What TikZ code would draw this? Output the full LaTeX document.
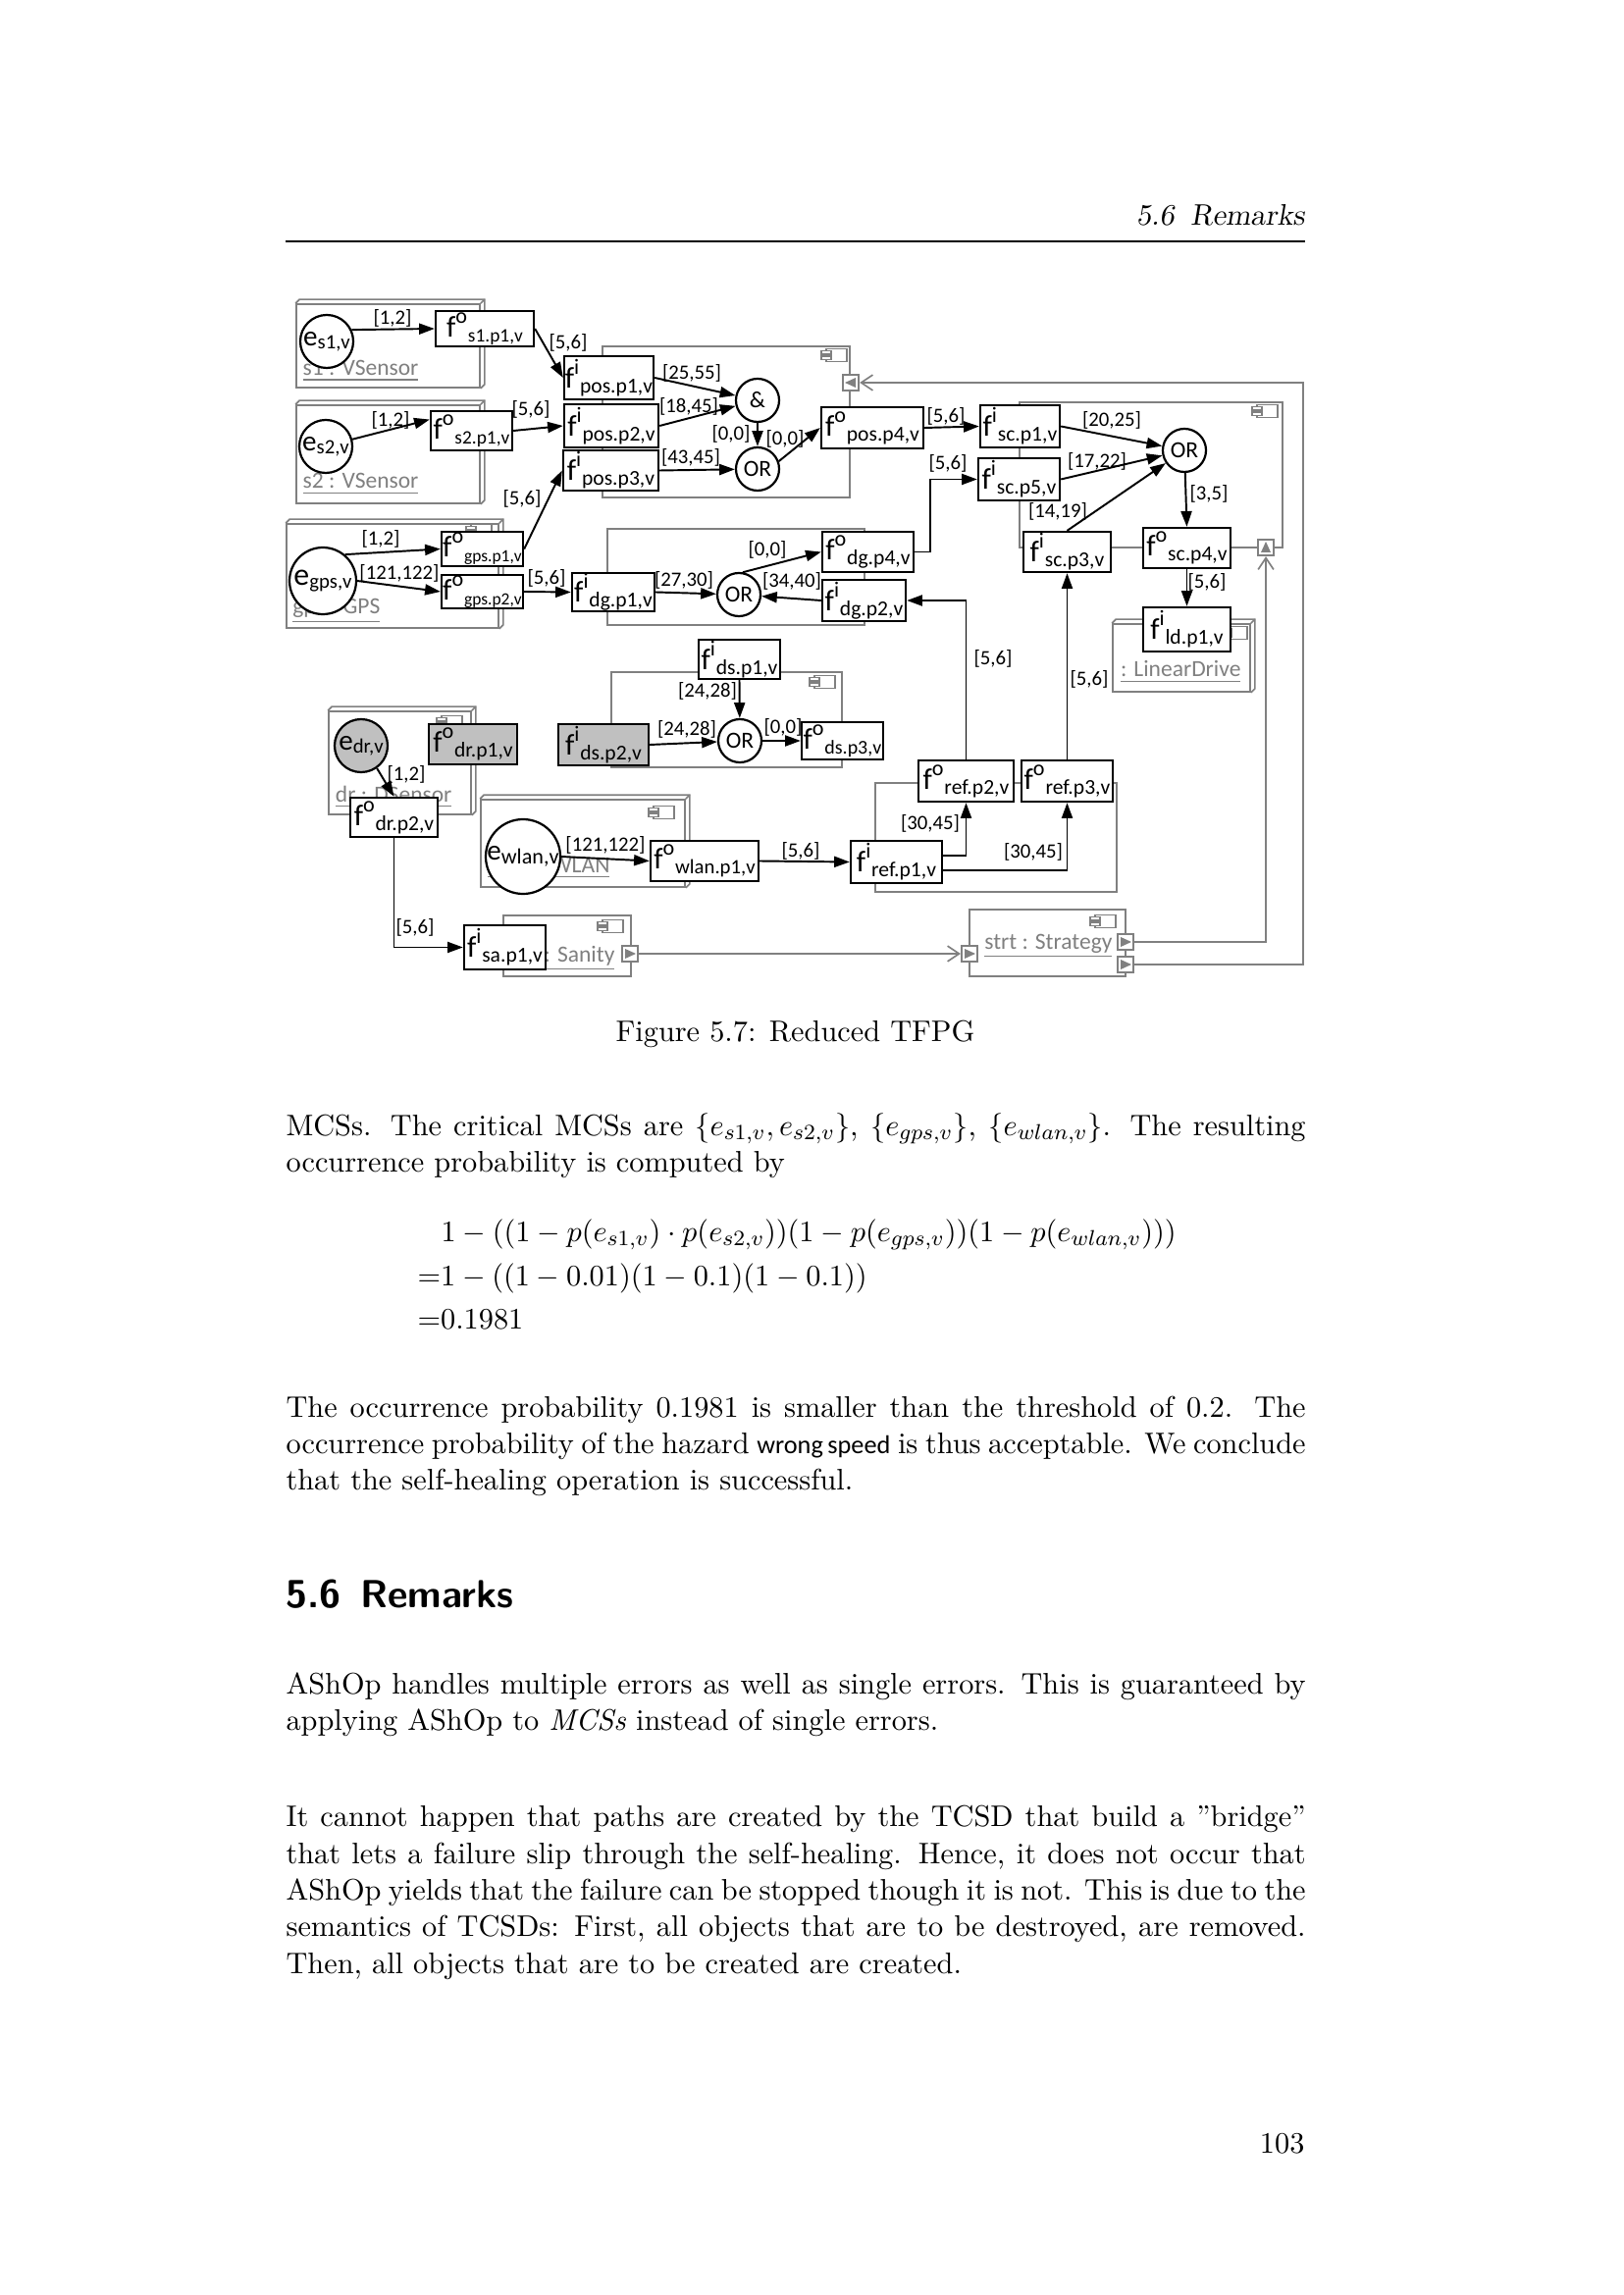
\documentclass[tikz,border=0pt]{standalone}
\usepackage{fontspec}
\newfontfamily\cf{Carlito}
\usetikzlibrary{arrows.meta,fit,calc}
\definecolor{compgray}{RGB}{128,128,128}
\definecolor{nodegray}{RGB}{192,192,192}
\newcommand\bodyfont{\fontsize{10.95pt}{13.6pt}\selectfont}
\newcommand\lblfont{\cf\fontsize{7.5pt}{8pt}\selectfont}
\newcommand\clblfont{\cf\fontsize{8.5pt}{9pt}\selectfont}
\newcommand\gatefont{\cf\fontsize{8.5pt}{9pt}\selectfont}
\newcommand\fx[3][7.8pt]{{\cf\fontsize{11pt}{11pt}\selectfont f\raisebox{5pt}{\fontsize{8pt}{8pt}\selectfont #2}\raisebox{-1.8pt}{\fontsize{#1}{8pt}\selectfont\hspace{0.3pt}#3}}}
\newcommand\ex[3]{{\cf\fontsize{#1}{#1}\selectfont e\raisebox{-1.2pt}{\fontsize{#2}{#2}\selectfont #3}}}
\newcommand\jl[1]{\makebox[131.91mm][s]{#1}}
\newcommand\fnode[7][fb]{\node[#1, minimum width={(#5-#3)*0.12696mm}, minimum height={(#6-#4)*0.12696mm}] (#2) at ({(#3+#5)/2},{(#4+#6)/2}) {#7};}
\newcommand\threed[1]{\draw[comp] (#1.north west) -- ++(4,-4) -- ($(#1.north east)+(4,-4)$) -- ($(#1.south east)+(4,-4)$) -- (#1.south east); \draw[comp] (#1.north east) -- ++(4,-4);}
\tikzset{
 fb/.style={draw=black, line width=0.85pt, fill=white, inner sep=0pt},
 fbg/.style={fb, fill=nodegray},
 ev/.style={circle, draw=black, line width=0.8pt, fill=white, inner sep=0pt},
 gate/.style={circle, draw=black, line width=0.8pt, fill=white, inner sep=0pt, minimum size=5.59mm, font=\gatefont},
 arr/.style={line width=0.7pt, -{Triangle[length=2mm,width=1.4mm]}},
 comp/.style={draw=compgray, line width=0.6pt},
 compbox/.style={draw=compgray, line width=0.6pt, inner sep=0pt},
 lbl/.style={inner sep=0pt, font=\lblfont},
 clbl/.style={inner sep=0pt, font=\clblfont, text=compgray, anchor=base east},
 garr/.style={draw=compgray, line width=0.6pt, -{Straight Barb[length=1.5mm,width=2mm]}},
 port/.style={draw=compgray, line width=0.6pt, fill=white, minimum size=2.1mm, inner sep=0pt},
 txt/.style={anchor=base west, inner sep=0pt, font=\bodyfont},
 cicon/.pic={
   \draw[compgray, line width=0.5pt, fill=white] (-8,-6.5) rectangle (13,6.5);
   \draw[compgray, line width=0.5pt, fill=white] (-13,-4.5) rectangle (-3,-1);
   \draw[compgray, line width=0.5pt, fill=white] (-13,1) rectangle (-3,4.5);
 }
}
\begin{document}
\begin{tikzpicture}[x=0.12696mm, y=-0.12696mm]
\useasboundingbox (0,0) rectangle (1654,2339);
\fill[white] (0,0) rectangle (1654,2339);

% ---------- page header ----------
\node[anchor=base east, inner sep=0pt, font=\bodyfont\slshape] (hdr) at (1330,230) {5.6\hspace{0.55em}Remarks};
\draw[line width=0.4pt] (291,246) -- (1330,246);

% ---------- components ----------
\node[compbox, fit={(302,310)(489,395)}] (cs1) {}; \threed{cs1}
\node[compbox, fit={(302,413)(489,513)}] (cs2) {}; \threed{cs2}
\node[compbox, fit={(292,534)(508,640)}] (cgps) {}; \threed{cgps}
\node[compbox, fit={(335,725)(480,830)}] (cdr) {}; \threed{cdr}
\node[compbox, fit={(490,815)(698,904)}] (cwlan) {}; \threed{cwlan}
\node[compbox, fit={(1134,636)(1274,705)}] (cld) {}; \threed{cld}
\node[compbox, fit={(614,353)(866,507)}] (cpos) {};
\node[compbox, fit={(619,539)(881,637)}] (cdg) {};
\node[compbox, fit={(1039,410)(1307,558)}] (csc) {};
\node[compbox, fit={(623,685)(858,782)}] (cds) {};
\node[compbox, fit={(892,798)(1138,909)}] (cref) {};
\node[compbox, fit={(513,933)(643,995)}] (csan) {};
\node[compbox, fit={(988,927)(1147,995)}] (cstr) {};

\pic at (850,362) {cicon};
\pic at (1289,419) {cicon};
\pic at (838,695) {cicon};
\pic at (674,828) {cicon};
\pic at (458,736) {cicon};
\pic at (622,944) {cicon};
\pic at (1124,939) {cicon};
\pic at (488,541) {cicon};
\pic at (1258,645) {cicon};

\node[clbl] (ls1) at (427,383) {\underline{s1 : VSensor}};
\node[clbl] (ls2) at (427,498) {\underline{s2 : VSensor}};
\node[clbl] (lgps) at (388,626) {\underline{gps : GPS}};
\node[clbl] (ldr) at (461,817) {\underline{dr : DSensor}};
\node[clbl] (lwlan) at (622,889) {\underline{wlan : WLAN}};
\node[clbl] (lld) at (1265,690) {\underline{: LinearDrive}};
\node[clbl] (lsan) at (627,980) {\underline{sa : Sanity}};
\node[clbl] (lstr) at (1134,967) {\underline{strt : Strategy}};

% ---------- ports ----------
\node[port] (ppos) at (867,390) {};
\fill[compgray] (ppos.center) ++(5,-5) -- ++(0,10) -- ++(-11,-5) -- cycle;
\node[port] (psc) at (1290,558) {};
\fill[compgray] (psc.center) ++(-5,5) -- ++(10,0) -- ++(-5,-11) -- cycle;
\node[port] (psan) at (642,972) {};
\fill[compgray] (psan.center) ++(-5,-5) -- ++(0,10) -- ++(11,-5) -- cycle;
\node[port] (pin) at (988,972) {};
\fill[compgray] (pin.center) ++(-5,-5) -- ++(0,10) -- ++(11,-5) -- cycle;
\node[port] (pout1) at (1147,960) {};
\fill[compgray] (pout1.center) ++(-5,-5) -- ++(0,10) -- ++(11,-5) -- cycle;
\node[port] (pout2) at (1147,983) {};
\fill[compgray] (pout2.center) ++(-5,-5) -- ++(0,10) -- ++(11,-5) -- cycle;

\coordinate (k2) at (1328,390);
\draw[garr] (psan.east) -- (pin.west);
\draw[garr] (pout1.east) -| (psc.south);
\draw[garr] (pout2.east) -| (k2) -- (ppos.east);

% ---------- event circles and gates ----------
\node[ev, minimum size=6.86mm] (es1) at (333,348) {\ex{10.5pt}{7.5pt}{s1,v}};
\node[ev, minimum size=6.86mm] (es2) at (332,455) {\ex{10.5pt}{7.5pt}{s2,v}};
\node[ev, minimum size=8.63mm] (egps) at (329,592) {\ex{11.5pt}{7.5pt}{gps,v}};
\node[ev, minimum size=6.86mm, fill=nodegray] (edr) at (368,760) {\ex{10.5pt}{7.5pt}{dr,v}};
\node[ev, minimum size=9.65mm] (ewlan) at (533,873) {\ex{10.5pt}{8pt}{wlan,v}};
\node[gate] (and) at (772,408) {\&};
\node[gate] (orpos) at (772,478) {OR};
\node[gate] (ordg) at (753,606) {OR};
\node[gate] (ords) at (754,755) {OR};
\node[gate] (orsc) at (1207,459) {OR};

% ---------- failure mode boxes ----------
\fnode{fs1}{444}{317}{544}{353}{\fx[7pt]{o}{s1.p1,v}}
\fnode{fs2}{439}{419}{522}{459}{\fx[7pt]{o}{s2.p1,v}}
\fnode{pos1}{575}{363}{666}{407}{\fx{i}{pos.p1,v}}
\fnode{pos2}{575}{412}{671}{456}{\fx{i}{pos.p2,v}}
\fnode{pos3}{574}{459}{671}{500}{\fx{i}{pos.p3,v}}
\fnode{pos4}{837}{415}{941}{457}{\fx{o}{pos.p4,v}}
\fnode{gps1}{450}{542}{533}{577}{\fx[6.3pt]{o}{gps.p1,v}}
\fnode{gps2}{450}{586}{533}{620}{\fx[6.3pt]{o}{gps.p2,v}}
\fnode{dg1}{583}{584}{667}{623}{\fx{i}{dg.p1,v}}
\fnode{dg4}{838}{542}{931}{583}{\fx{o}{dg.p4,v}}
\fnode{dg2}{838}{591}{923}{633}{\fx{i}{dg.p2,v}}
\fnode{sc1}{999}{413}{1080}{456}{\fx{i}{sc.p1,v}}
\fnode{sc5}{997}{467}{1080}{510}{\fx{i}{sc.p5,v}}
\fnode{sc3}{1043}{542}{1132}{583}{\fx{i}{sc.p3,v}}
\fnode{sc4}{1165}{538}{1254}{579}{\fx{o}{sc.p4,v}}
\fnode{ld1}{1165}{619}{1254}{664}{\fx{i}{ld.p1,v}}
\fnode{ds1}{712}{652}{795}{692}{\fx{i}{ds.p1,v}}
\fnode[fbg]{ds2}{569}{738}{661}{780}{\fx{i}{ds.p2,v}}
\fnode{ds3}{817}{736}{900}{774}{\fx[7.2pt]{o}{ds.p3,v}}
\fnode[fbg]{dr1}{437}{738}{527}{779}{\fx{o}{dr.p1,v}}
\fnode{dr2}{357}{813}{446}{853}{\fx{o}{dr.p2,v}}
\fnode{wlan1}{663}{857}{773}{898}{\fx[7.5pt]{o}{wlan.p1,v}}
\fnode{ref1}{867}{857}{960}{900}{\fx{i}{ref.p1,v}}
\fnode{ref2}{936}{775}{1033}{817}{\fx{o}{ref.p2,v}}
\fnode{ref3}{1041}{775}{1134}{817}{\fx{o}{ref.p3,v}}
\fnode{sa1}{473}{943}{556}{988}{\fx{i}{sa.p1,v}}

% ---------- connectors ----------
\coordinate (k1) at (948,488.5);
\draw[arr] (es1.25) -- (fs1.west);
\draw[arr] (fs1.east) -- (pos1.west);
\draw[arr] (es2.15) -- (fs2.165);
\draw[arr] (fs2.east) -- (pos2.west);
\draw[arr] (gps1.east) -- (pos3.west);
\draw[arr] (pos1.east) -- (and);
\draw[arr] (pos2.east) -- (and);
\draw[arr] (pos3.east) -- (orpos);
\draw[arr] (and) -- (orpos);
\draw[arr] (orpos.20) -- (pos4.west);
\draw[arr] (pos4.east) -- (sc1.west);
\draw[arr] (dg4.east) -| (k1) -- (sc5.west);
\draw[arr] (sc1.east) -- (orsc);
\draw[arr] (sc5.east) -- (orsc);
\draw[arr] (sc3.north) -- (orsc);
\draw[arr] (orsc) -- (sc4.north);
\draw[arr] (sc4.south) -- (ld1.north);
\draw[arr] (egps.50) -- (gps1.west);
\draw[arr] (egps.east) -- (gps2.west);
\draw[arr] (gps2.east) -- (dg1.west);
\draw[arr] (dg1.east) -- (ordg);
\draw[arr] (ordg.80) -- (dg4.west);
\draw[arr] (dg2.west) -- (ordg);
\draw[arr] (ref2.north) |- (dg2.east);
\draw[arr] (ref3.north) -- (sc3.south);
\draw[arr] (ref1.east) ++(0,-6.5) -| (ref2.south);
\draw[arr] (ref1.east) ++(0,8.5) -| (ref3.south);
\draw[arr] (ewlan.east) -- (wlan1.west);
\draw[arr] (wlan1.east) -- (ref1.west);
\draw[arr] (edr.-55) -- (dr2.north);
\draw[arr] (dr2.south) |- (sa1.west);
\draw[arr] (ds1.south) -- (ords);
\draw[arr] (ds2.east) -- (ords);
\draw[arr] (ords) -- (ds3.west);

% ---------- connector labels ----------
\node[lbl] (l1) at (400,324) {[1,2]};
\node[lbl] (l2) at (579,349) {[5,6]};
\node[lbl] (l3) at (398,428) {[1,2]};
\node[lbl] (l4) at (541,417) {[5,6]};
\node[lbl] (l5) at (532,508) {[5,6]};
\node[lbl] (l6) at (705,380) {[25,55]};
\node[lbl] (l7) at (702,414) {[18,45]};
\node[lbl] (l8) at (704,466) {[43,45]};
\node[lbl] (l9) at (745,442) {[0,0]};
\node[lbl] (l10) at (800,447) {[0,0]};
\node[lbl] (l11) at (964,424) {[5,6]};
\node[lbl] (l12) at (966,472) {[5,6]};
\node[lbl] (l13) at (1133,428) {[20,25]};
\node[lbl] (l14) at (1118,470) {[17,22]};
\node[lbl] (l15) at (1078,521) {[14,19]};
\node[lbl] (l16) at (1232,503) {[3,5]};
\node[lbl] (l17) at (1230,593) {[5,6]};
\node[lbl] (l18) at (1110,692) {[5,6]};
\node[lbl] (l19) at (1012,671) {[5,6]};
\node[lbl] (l20) at (388,549) {[1,2]};
\node[lbl] (l21) at (407,584) {[121,122]};
\node[lbl] (l22) at (557,589) {[5,6]};
\node[lbl] (l23) at (697,591) {[27,30]};
\node[lbl] (l24) at (782,560) {[0,0]};
\node[lbl] (l25) at (807,592) {[34,40]};
\node[lbl] (l26) at (721,704) {[24,28]};
\node[lbl] (l27) at (700,743) {[24,28]};
\node[lbl] (l28) at (798,741) {[0,0]};
\node[lbl] (l29) at (414,789) {[1,2]};
\node[lbl] (l30) at (617,861) {[121,122]};
\node[lbl] (l31) at (816,867) {[5,6]};
\node[lbl] (l32) at (948,839) {[30,45]};
\node[lbl] (l33) at (1053,868) {[30,45]};
\node[lbl] (l34) at (423,945) {[5,6]};

% ---------- caption and body text ----------
\node[anchor=base, inner sep=0pt, font=\bodyfont] (cap) at (810.5,1061) {Figure 5.7: Reduced TFPG};

\node[txt] (p1a) at (291,1157) {\jl{MCSs. The critical MCSs are $\{e_{s1,v}, e_{s2,v}\}$, $\{e_{gps,v}\}$, $\{e_{wlan,v}\}$. The resulting}};
\node[txt] (p1b) at (291,1194) {occurrence probability is computed by};

\node[txt] (eq1) at (449,1265) {$1-((1-p(e_{s1,v})\cdot p(e_{s2,v}))(1-p(e_{gps,v}))(1-p(e_{wlan,v})))$};
\node[txt] (eq2) at (425,1310) {${=}1-((1-0.01)(1-0.1)(1-0.1))$};
\node[txt] (eq3) at (425,1354) {${=}0.1981$};

\node[txt] (p2a) at (291,1444) {\jl{The occurrence probability 0.1981 is smaller than the threshold of 0.2. The}};
\node[txt] (p2b) at (291,1481) {\jl{occurrence probability of the hazard {\cf\fontsize{9.5pt}{11pt}\selectfont wrong speed} is thus acceptable. We conclude}};
\node[txt] (p2c) at (291,1518) {that the self-healing operation is successful.};

\node[anchor=base west, inner sep=0pt, font=\fontsize{14.4pt}{17pt}\selectfont\sffamily\bfseries] (sec) at (291,1638) {5.6\enskip Remarks};

\node[txt] (p3a) at (291,1726) {\jl{AShOp handles multiple errors as well as single errors. This is guaranteed by}};
\node[txt] (p3b) at (291,1763) {applying AShOp to \emph{MCSs} instead of single errors.};

\node[txt] (p4a) at (291,1861) {\jl{It cannot happen that paths are created by the TCSD that build a ”bridge”}};
\node[txt] (p4b) at (291,1899) {\jl{that lets a failure slip through the self-healing. Hence, it does not occur that}};
\node[txt] (p4c) at (291,1936) {\jl{AShOp yields that the failure can be stopped though it is not. This is due to the}};
\node[txt] (p4d) at (291,1973) {\jl{semantics of TCSDs: First, all objects that are to be destroyed, are removed.}};
\node[txt] (p4e) at (291,2011) {Then, all objects that are to be created are created.};

\node[anchor=base east, inner sep=0pt, font=\bodyfont] (pg) at (1330,2194) {103};
\end{tikzpicture}
\end{document}
